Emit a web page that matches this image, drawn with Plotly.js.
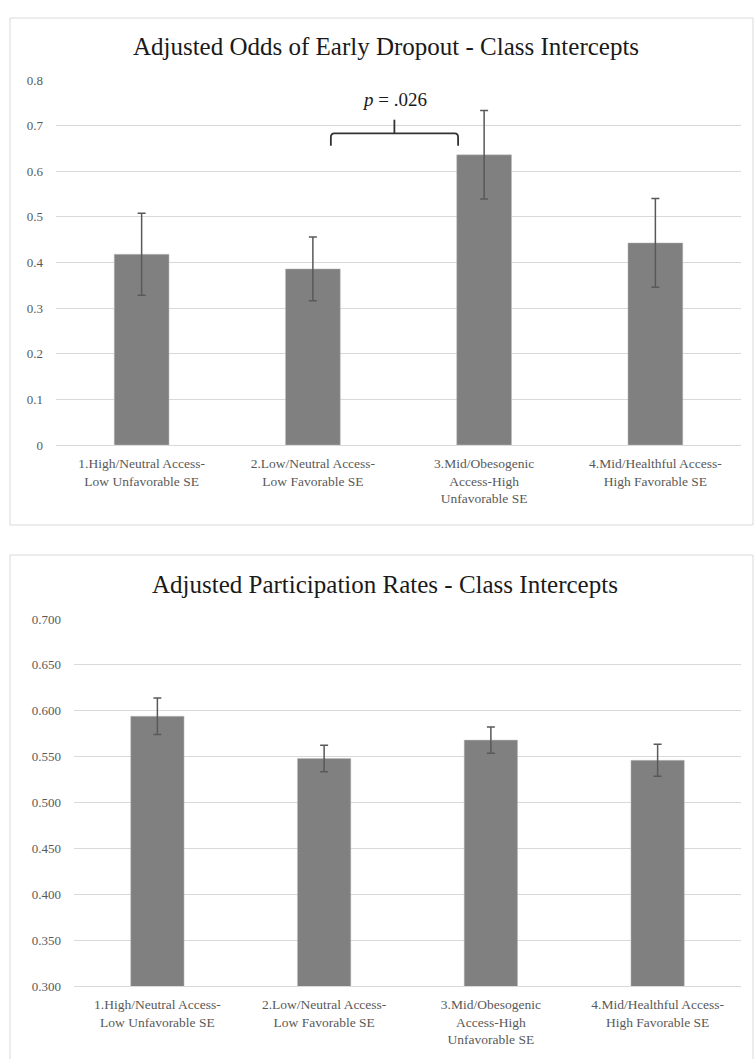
<!DOCTYPE html>
<html>
<head>
<meta charset="utf-8">
<script src="https://cdn.plot.ly/plotly-3.0.1.min.js"></script>
<style>html,body{margin:0;padding:0;background:#fff;}#chart{width:754px;height:1059px;}</style>
</head>
<body>
<div id="chart"></div>
<script>
// ---- data ----
var categories = [
  "1.High/Neutral Access-<br>Low Unfavorable SE",
  "2.Low/Neutral Access-<br>Low Favorable SE",
  "3.Mid/Obesogenic<br>Access-High<br>Unfavorable SE",
  "4.Mid/Healthful Access-<br>High Favorable SE"
];
var dropoutOdds = [0.418, 0.386, 0.636, 0.443];
var dropoutErr = [0.090, 0.070, 0.097, 0.097];
var participationRates = [0.594, 0.548, 0.568, 0.546];
var participationErr = [0.020, 0.0145, 0.0143, 0.0175];
var dropoutTicks = [0, 0.1, 0.2, 0.3, 0.4, 0.5, 0.6, 0.7, 0.8];
var dropoutTickText = ["0", "0.1", "0.2", "0.3", "0.4", "0.5", "0.6", "0.7", "0.8"];
var partTicks = [0.30, 0.35, 0.40, 0.45, 0.50, 0.55, 0.60, 0.65, 0.70];
var partTickText = ["0.300", "0.350", "0.400", "0.450", "0.500", "0.550", "0.600", "0.650", "0.700"];
var title1 = "Adjusted Odds of Early Dropout - Class Intercepts";
var title2 = "Adjusted Participation Rates - Class Intercepts";
var pLabel = "<i>p</i> = .026";

// ---- styles ----
var serif = "Liberation Serif, Times New Roman, serif";
var barColor = "#808080";
var errColor = "#595959";
var gridColor = "#d9d9d9";
var yTickFont = {family: serif, size: 13, color: "#595959"};
var xTickFont = {family: serif, size: 13.5, color: "#595959"};

var traces = [
  {
    type: "bar", x: categories, y: dropoutOdds, xaxis: "x", yaxis: "y",
    marker: {color: barColor, line: {color: "#bfbfbf", width: 0.5}},
    error_y: {type: "data", array: dropoutErr, visible: true, color: errColor, thickness: 1.5, width: 4},
    hoverinfo: "none"
  },
  {
    type: "bar", x: categories, y: participationRates, xaxis: "x2", yaxis: "y2",
    marker: {color: barColor, line: {color: "#bfbfbf", width: 0.5}},
    error_y: {type: "data", array: participationErr, visible: true, color: errColor, thickness: 1.5, width: 4},
    hoverinfo: "none"
  }
];

function yAxis(range, tv, tt, domain, anchor) {
  return {
    range: range, domain: domain, anchor: anchor,
    tickvals: tv, ticktext: tt, tickfont: yTickFont,
    showgrid: true, gridcolor: gridColor, gridwidth: 1,
    zeroline: false, showline: false, ticks: "", ticklabelstandoff: 12,
    fixedrange: true
  };
}
function xAxis(domain, anchor) {
  return {
    domain: domain, anchor: anchor, type: "category",
    tickfont: xTickFont, showline: true, linecolor: gridColor, linewidth: 1,
    ticks: "", showgrid: false, zeroline: false, tickangle: 0,
    ticklabelstandoff: 6, fixedrange: true
  };
}

var W = 754, H = 1059;
function px(x) { return x / W; }
function py(y) { return 1 - y / H; }

var layout = {
  width: W, height: H,
  margin: {l: 0, r: 0, t: 0, b: 0},
  paper_bgcolor: "#ffffff", plot_bgcolor: "#ffffff",
  showlegend: false, bargap: 0.68,
  font: {family: serif},
  title: {text: title1, x: px(386), xanchor: "center", y: py(46), yanchor: "middle",
          font: {family: serif, size: 25, color: "#1a1a1a"}},
  xaxis: xAxis([px(56), px(741)], "y"),
  yaxis: yAxis([0, 0.8], dropoutTicks, dropoutTickText, [py(445), py(80)], "x"),
  xaxis2: xAxis([px(74), px(741)], "y2"),
  yaxis2: yAxis([0.3, 0.7], partTicks, partTickText, [py(986), py(619)], "x2"),
  annotations: [
    {text: title2, xref: "paper", yref: "paper", x: px(385), y: py(584),
     xanchor: "center", yanchor: "middle", showarrow: false,
     font: {family: serif, size: 25, color: "#1a1a1a"}},
    {text: pLabel, xref: "x", yref: "y", x: 1.476, y: 0.757,
     xanchor: "center", yanchor: "middle", showarrow: false,
     font: {family: serif, size: 19, color: "#1a1a1a"}}
  ],
  shapes: [
    // chart frames
    {type: "rect", xref: "paper", yref: "paper", x0: px(10), x1: px(753), y0: py(525), y1: py(18),
     line: {color: gridColor, width: 1}, layer: "below"},
    {type: "rect", xref: "paper", yref: "paper", x0: px(10), x1: px(753), y0: py(1062), y1: py(555),
     line: {color: gridColor, width: 1}, layer: "below"},
    // significance bracket between class 2 and class 3
    {type: "path", xref: "x", yref: "y",
     path: "M 1.105 0.656 L 1.105 0.674 Q 1.105 0.683 1.125 0.683 L 1.828 0.683 Q 1.848 0.683 1.848 0.674 L 1.848 0.656",
     line: {color: "#333333", width: 1.8}},
    {type: "line", xref: "x", yref: "y", x0: 1.476, x1: 1.476, y0: 0.683, y1: 0.713,
     line: {color: "#333333", width: 1.8}}
  ]
};

Plotly.newPlot("chart", traces, layout, {displayModeBar: false, staticPlot: true});
</script>
</body>
</html>
